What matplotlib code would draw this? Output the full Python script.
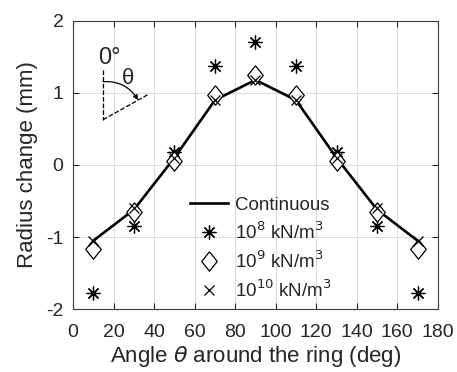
import matplotlib
matplotlib.use("Agg")
import matplotlib.pyplot as plt

plt.rcParams["font.family"] = ["Liberation Sans", "DejaVu Sans"]
plt.rcParams["axes.unicode_minus"] = False
plt.rcParams["text.color"] = "#262626"
plt.rcParams["xtick.color"] = "#262626"
plt.rcParams["ytick.color"] = "#262626"
plt.rcParams["axes.labelcolor"] = "#262626"

angles = [10, 30, 50, 70, 90, 110, 130, 150, 170]
continuous = [-1.05, -0.62, 0.10, 0.90, 1.18, 0.90, 0.10, -0.62, -1.05]
k1e8 = [-1.77, -0.85, 0.18, 1.38, 1.70, 1.38, 0.18, -0.85, -1.77]
k1e9 = [-1.17, -0.65, 0.05, 0.97, 1.25, 0.97, 0.05, -0.65, -1.17]
k1e10 = [-1.05, -0.60, 0.10, 0.90, 1.18, 0.90, 0.10, -0.60, -1.05]

xticks = list(range(0, 181, 20))
yticks = [-2, -1, 0, 1, 2]

# matlab-style diamond, a bit taller than wide
diamond = [(0, 1), (0.8, 0), (0, -1), (-0.8, 0), (0, 1)]

fig = plt.figure(figsize=(4.57, 3.72), dpi=100)
ax = fig.add_axes([0.16, 0.169, 0.798, 0.775])

ax.plot(angles, continuous, color="black", lw=1.9, label="Continuous")
ax.plot(angles, k1e8, ls="none", marker=(8, 2, 0), ms=10, mec="black", mew=0.9,
        label=r"10$^{8}$ kN/m$^{3}$")
ax.plot(angles, k1e9, ls="none", marker=diamond, ms=14, mfc="white", mec="black", mew=0.9,
        label=r"10$^{9}$ kN/m$^{3}$")
ax.plot(angles, k1e10, ls="none", marker="x", ms=7, mec="black", mew=0.9,
        label=r"10$^{10}$ kN/m$^{3}$")

ax.set_xlim(0, 180)
ax.set_ylim(-2, 2)
ax.set_xticks(xticks)
ax.set_yticks(yticks)
ax.tick_params(direction="in", top=True, right=True, labelsize=14, length=4)
ax.tick_params(axis="x", pad=11)
ax.tick_params(axis="y", pad=7)
ax.grid(color="#dcdcdc", lw=0.8)
ax.set_axisbelow(True)
for s in ax.spines.values():
    s.set_color("#404040")
ax.set_xlabel(r"Angle $\theta$ around the ring (deg)", fontsize=16, labelpad=2)
ax.set_ylabel("Radius change (mm)", fontsize=16, labelpad=6)

leg = ax.legend(loc="lower left", bbox_to_anchor=(0.275, -0.03), frameon=False,
                fontsize=13.5, handlelength=2.0, handletextpad=0.4, labelspacing=0.4)

# angle sketch
tr = ax.transAxes
ax.plot([0.082, 0.082], [0.83, 0.657], ls="--", color="black", lw=0.9, transform=tr)
ax.plot([0.082, 0.205], [0.657, 0.744], ls="--", color="black", lw=0.9, transform=tr)
ax.annotate("", xy=(0.178, 0.725), xytext=(0.082, 0.789), xycoords=tr, textcoords=tr,
            arrowprops=dict(arrowstyle="-|>", color="black", lw=0.9, shrinkA=0, shrinkB=0,
                            connectionstyle="arc3,rad=-0.3", mutation_scale=7))
ax.text(0.099, 0.87, "0°", transform=tr, fontsize=17, ha="center", va="center")
ax.text(0.151, 0.80, "θ", transform=tr, fontsize=16, ha="center", va="center")

fig.savefig("out.png", dpi=100)
